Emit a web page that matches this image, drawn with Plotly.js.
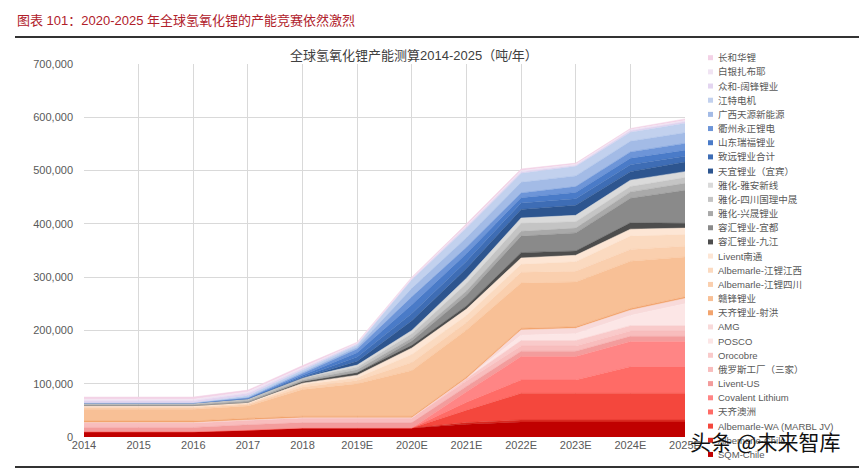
<!DOCTYPE html>
<html><head><meta charset="utf-8">
<script src="https://cdn.plot.ly/plotly-3.0.1.min.js"></script>
<style>html,body{margin:0;padding:0;background:#fff;} #chart{width:859px;height:470px;}</style>
</head><body><div id="chart"></div>
<script>
// ---- data (tonnes / year) ----
const years = ['2014','2015','2016','2017','2018','2019E','2020E','2021E','2022E','2023E','2024E','2025E'];
const yTicks = [0,100000,200000,300000,400000,500000,600000,700000];

const sqmChile      = [10000,10000,10000,13000,17000,17000,17000,24000,28000,28000,28000,28000];
const albChile      = [0,0,0,0,0,0,0,3000,4000,4000,4000,4000];
const albWA         = [0,0,0,0,0,0,0,23000,50000,50000,50000,50000];
const tianqiAus     = [0,0,0,0,0,0,0,15000,25000,25000,50000,50000];
const covalent      = [0,0,0,0,0,0,0,20000,44000,44000,47000,47000];
const liventUS      = [8000,8000,8000,10000,10000,10000,10000,10000,10000,10000,10000,10000];
const russia        = [9000,9000,9000,9000,9000,9000,9000,10000,10000,10000,10000,10000];
const orocobre      = [0,0,0,0,0,0,0,5000,10000,10000,10000,10000];
const posco         = [0,0,0,0,0,0,0,0,10000,13000,19000,41000];
const amg           = [0,0,0,0,0,0,0,0,10000,10000,10000,10000];
const tianqiShehong = [3000,3000,3000,3000,3000,3000,3000,3000,3000,3000,3000,3000];
const ganfeng       = [22000,22000,22000,23000,50000,61000,86000,88000,85000,84000,89000,75000];
const albSichuan    = [3000,3000,3000,3000,5000,6000,15000,14000,20000,20000,22000,20000];
const albJiangxi    = [2000,2000,2000,2000,4000,5000,15000,13000,15000,18000,25000,22000];
const liventNantong = [2000,2000,2000,2000,3000,5000,12000,12000,12000,12000,13000,12000];
const ronghuiJJ     = [0,0,0,0,3000,5000,5000,6000,10000,8000,12000,9000];
const ronghuiYD     = [0,0,0,0,0,0,8000,20000,31000,34000,46000,62000];
const yahuaXS       = [2000,2000,2000,3000,3000,5000,6000,8000,9000,9000,12000,13000];
const yahuaGL       = [3000,3000,3000,4000,4000,5000,8000,14000,15000,12000,10000,11000];
const yahuaYA       = [0,0,0,0,0,4000,6000,10000,10000,12000,12000,11000];
const tianyi        = [0,0,0,0,0,7000,18000,18000,16000,19000,16000,18000];
const zhiyuan       = [0,0,0,0,2000,8000,14000,14000,12000,12000,13000,11000];
const shandong      = [0,0,0,0,3000,8000,16000,14000,10000,12000,12000,11000];
const quzhou        = [0,0,0,1000,3000,7000,15000,12000,9000,11000,12000,13000];
const guangxi       = [0,0,0,2000,3000,4000,16000,18000,20000,20000,20000,20000];
const jiangte       = [0,0,0,3000,3000,4000,16000,18000,17000,18000,17000,18000];
const zhonghe       = [4000,4000,4000,4000,4000,2000,2000,3000,3000,2000,3000,3000];
const baiyin        = [3000,3000,3000,3000,2000,1000,1000,2000,2000,2000,2000,2000];
const changhe       = [4000,4000,4000,3000,3000,2000,2000,3000,3000,2000,2000,3000];

// series in stacking order (bottom first)
const seriesNames = ['SQM-Chile','Albemarle-Chile','Albemarle-WA (MARBL JV)','天齐澳洲','Covalent Lithium','Livent-US','俄罗斯工厂（三家）','Orocobre','POSCO','AMG',
  '天齐锂业-射洪','赣锋锂业','Albemarle-江锂四川','Albemarle-江锂江西','Livent南通',
  '容汇锂业-九江','容汇锂业-宜都','雅化-兴晟锂业','雅化-四川国理中晟','雅化-雅安新线',
  '天宜锂业（宜宾）','致远锂业合计','山东瑞福锂业','衢州永正锂电','广西天源新能源','江特电机',
  '众和-阔锋锂业','白银扎布耶','长和华锂'];
const seriesValues = [sqmChile,albChile,albWA,tianqiAus,covalent,liventUS,russia,orocobre,posco,amg,
  tianqiShehong,ganfeng,albSichuan,albJiangxi,liventNantong,
  ronghuiJJ,ronghuiYD,yahuaXS,yahuaGL,yahuaYA,
  tianyi,zhiyuan,shandong,quzhou,guangxi,jiangte,
  zhonghe,baiyin,changhe];

// ---- styles ----
const seriesColors = ['#C00000','#D92A20','#F4473D','#FF6B66','#FF8585','#F39C9C','#F8BDBD','#F9CACA','#FCE6E6','#F8DADA',
  '#F2A46E','#F8C096','#FACFAE','#FBDAC0','#FDE6D5',
  '#4D4D4D','#8A8A8A','#A9A9A9','#C4C4C4','#DADADA',
  '#2D558F','#3E6DB5','#4A7BC8','#6D95D8','#A3BBE6','#C2D1EE',
  '#E3D5F0','#F0E4F3','#F3D2E6'];

const L = 84, R = 685, T = 64, B = 437;
const px2x = p => (p - L) / (R - L);
const py2y = p => (B - p) / (B - T);
const cjk = '"Liberation Sans", "Noto Sans CJK SC", sans-serif';

const traces = seriesNames.map((n, i) => ({
  type: 'scatter', x: years, y: seriesValues[i], name: n,
  stackgroup: 'one', mode: 'lines',
  line: {width: 0.5, color: seriesColors[i]},
  fillcolor: seriesColors[i], showlegend: false, hoverinfo: 'skip'
}));

const annotations = [];
const shapes = [];
// custom legend (top item = top of stack)
const nS = seriesNames.length;
for (let k = 0; k < nS; k++) {
  const i = nS - 1 - k;
  const yc = 57.7 + k * 14.17;
  shapes.push({type: 'rect', xref: 'paper', yref: 'paper',
    x0: px2x(708), x1: px2x(713), y0: py2y(yc + 2.5), y1: py2y(yc - 2.5),
    fillcolor: seriesColors[i], line: {width: 0}});
  annotations.push({xref: 'paper', yref: 'paper', x: px2x(716), y: py2y(yc),
    xanchor: 'left', yanchor: 'middle', showarrow: false, text: seriesNames[i],
    font: {family: cjk, size: 9.5, color: '#595959'}});
}
// header
annotations.push({xref: 'paper', yref: 'paper', x: px2x(15), y: py2y(21), xanchor: 'left', yanchor: 'middle',
  showarrow: false, text: '图表 101：2020-2025 年全球氢氧化锂的产能竞赛依然激烈',
  font: {family: cjk, size: 13, color: '#B0202A'}});
shapes.push({type: 'line', xref: 'paper', yref: 'paper', x0: px2x(15), x1: px2x(859), y0: py2y(37), y1: py2y(37),
  line: {color: '#333333', width: 2}});
shapes.push({type: 'line', xref: 'paper', yref: 'paper', x0: px2x(15), x1: px2x(859), y0: py2y(467), y1: py2y(467),
  line: {color: '#333333', width: 2}});
// chart title
annotations.push({xref: 'paper', yref: 'paper', x: px2x(414), y: py2y(56), xanchor: 'center', yanchor: 'middle',
  showarrow: false, text: '全球氢氧化锂产能测算2014-2025（吨/年）',
  font: {family: cjk, size: 13, color: '#404040'}});
// watermark
annotations.push({xref: 'paper', yref: 'paper', x: px2x(765), y: py2y(441), xanchor: 'center', yanchor: 'middle',
  showarrow: false, text: '头条 @未来智库',
  font: {family: '"Noto Sans CJK SC", sans-serif', size: 21, color: '#111111'}});

const layout = {
  width: 859, height: 470,
  margin: {l: L, r: 859 - R, t: T, b: 470 - B, pad: 0},
  paper_bgcolor: '#ffffff', plot_bgcolor: '#ffffff',
  showlegend: false,
  xaxis: {type: 'category', range: [0, years.length - 1], showgrid: true, gridcolor: '#D9D9D9', gridwidth: 1,
    showline: false, zeroline: false, ticks: '',
    tickfont: {family: cjk, size: 11, color: '#595959'}},
  yaxis: {range: [0, 700000], tickvals: yTicks, tickformat: ',d', showgrid: true, gridcolor: '#D9D9D9', gridwidth: 1,
    showline: false, zeroline: false, ticks: '', ticklabelstandoff: 10,
    tickfont: {family: cjk, size: 11, color: '#595959'}},
  annotations: annotations, shapes: shapes
};

Plotly.newPlot('chart', traces, layout, {displayModeBar: false, staticPlot: true});
</script>
</body></html>
